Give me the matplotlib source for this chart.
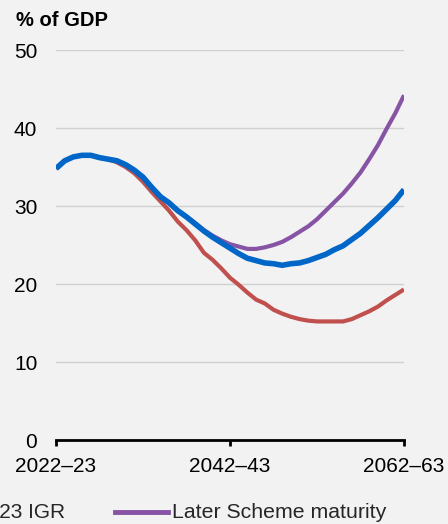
import numpy as np
import matplotlib
matplotlib.use("Agg")
import matplotlib.pyplot as plt
from matplotlib.lines import Line2D

plt.rcParams['font.family'] = ['Liberation Sans', 'DejaVu Sans']

# yearly values, 2022-23 .. 2062-63 (% of GDP)
years = np.arange(2022, 2063)
igr_2023 = [34.8, 35.8, 36.3, 36.5, 36.5, 36.2, 36.0, 35.6, 35.0, 34.2,
            33.1, 31.8, 30.6, 29.4, 28.0, 26.9, 25.6, 24.0, 23.1, 22.0,
            20.8, 19.9, 18.9, 18.0, 17.5, 16.7, 16.2, 15.8, 15.5, 15.3,
            15.2, 15.2, 15.2, 15.2, 15.5, 16.0, 16.5, 17.1, 17.9, 18.6,
            19.3]
later_maturity = [34.8, 35.8, 36.3, 36.5, 36.5, 36.2, 36.0, 35.8, 35.3, 34.6,
                  33.7, 32.4, 31.2, 30.4, 29.4, 28.6, 27.8, 26.9, 26.2, 25.6,
                  25.1, 24.8, 24.5, 24.5, 24.7, 25.0, 25.4, 26.0, 26.7, 27.4,
                  28.3, 29.4, 30.5, 31.6, 32.9, 34.3, 36.0, 37.8, 39.9, 41.9,
                  44.2]
other = [34.8, 35.8, 36.3, 36.5, 36.5, 36.2, 36.0, 35.8, 35.3, 34.6,
         33.7, 32.4, 31.2, 30.4, 29.4, 28.6, 27.7, 26.8, 26.0, 25.3,
         24.6, 23.9, 23.3, 23.0, 22.7, 22.6, 22.4, 22.6, 22.7, 23.0,
         23.4, 23.8, 24.4, 24.9, 25.7, 26.5, 27.5, 28.5, 29.6, 30.7,
         32.1]
tick_years = [2022, 2042, 2062]
tick_labels = ['2022–23', '2042–43', '2062–63']

bg = '#f2f2f2'
red = '#c0504d'
purple = '#8753a5'
blue = '#0066c8'

W, H = 448, 524
fig = plt.figure(figsize=(W / 100, H / 100), dpi=100, facecolor=bg)
ax = fig.add_axes([56 / W, (H - 440) / H, 348 / W, 390 / H], facecolor=bg)

ax.plot(years, igr_2023, color=red, lw=3.0, solid_capstyle='butt', zorder=3)
ax.plot(years, later_maturity, color=purple, lw=3.0, solid_capstyle='butt', zorder=3)
ax.plot(years, other, color=blue, lw=4.0, solid_capstyle='butt', zorder=4)

ax.set_xlim(2022, 2062)
ax.set_ylim(0, 50)
ax.set_yticks([0, 10, 20, 30, 40, 50])
ax.set_xticks(tick_years)
ax.set_xticklabels(tick_labels)
ax.grid(axis='y', color='#d0d0d0', lw=1.0)
ax.set_axisbelow(True)
for s in ['top', 'right', 'left']:
    ax.spines[s].set_visible(False)
ax.spines['bottom'].set_linewidth(2.0)
ax.spines['bottom'].set_color('black')
ax.spines['bottom'].set_zorder(5)
ax.tick_params(axis='y', length=0, pad=13.5, labelsize=15)
ax.tick_params(axis='x', length=4, width=2, direction='out', pad=8, labelsize=15)

fig.text(16 / W, 1 - 21 / H, '% of GDP', fontsize=14.5, fontweight='bold',
         va='center', ha='left')

# legend row (cut off at the left edge like the reference)
ly = 1 - 512 / H
fig.text(65 / W, ly, '2023 IGR', fontsize=15, ha='right', va='center',
         color='#262626')
fig.add_artist(Line2D([-60 / W, -8 / W], [ly, ly], color=red, lw=3.5,
                      transform=fig.transFigure))
fig.add_artist(Line2D([115 / W, 168 / W], [ly, ly], color=purple, lw=3.5,
                      transform=fig.transFigure))
fig.text(172 / W, ly, 'Later Scheme maturity', fontsize=15.3, ha='left',
         va='center', color='#262626')

fig.savefig('out.png', dpi=100, facecolor=bg)
